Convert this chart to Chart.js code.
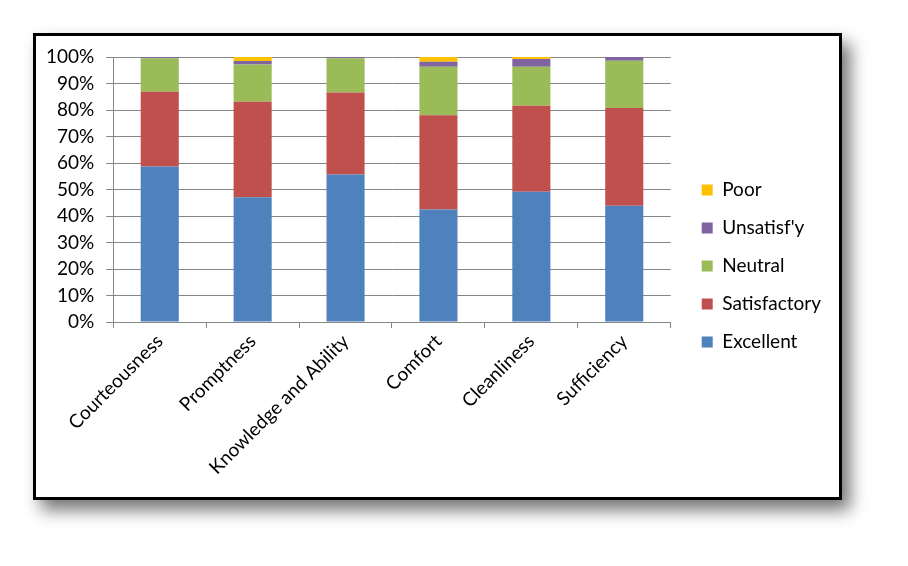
<!DOCTYPE html>
<html>
<head>
<meta charset="utf-8">
<script src="https://cdn.jsdelivr.net/npm/chart.js@4/dist/chart.umd.min.js"></script>
<style>
  html, body { margin: 0; padding: 0; background: #fff; }
  #frame {
    position: absolute; left: 33px; top: 33px;
    width: 803px; height: 461px;
    border: 3px solid #000; background: #fff;
    box-shadow: 8px 10px 16px rgba(0,0,0,0.55);
  }
  #chart { display: block; }
</style>
</head>
<body>
<div id="frame"><canvas id="chart" width="803" height="461"></canvas></div>
<script>
// categories and shares (%)
const categories = ['Courteousness', 'Promptness', 'Knowledge and Ability', 'Comfort', 'Cleanliness', 'Sufficiency'];
const excellent    = [58.7, 47.1, 55.7, 42.5, 49.2, 43.9];
const satisfactory = [28.2, 36.0, 30.9, 35.5, 32.4, 36.9];
const neutral      = [12.6, 14.1, 12.9, 18.3, 14.7, 17.8];
const unsatisfy    = [0.5, 1.3, 0.5, 1.9, 2.9, 1.4];
const poor         = [0.0, 1.5, 0.0, 1.8, 0.8, 0.0];

const COLORS = { blue: '#4F81BD', red: '#C0504D', green: '#9BBB59', purple: '#8064A2', yellow: '#FFC000' };
const FONT = 'Lato, "Open Sans", sans-serif';
const GRID = '#868686';

// extra room between plot and legend, and a small lift of the legend
const LEGEND_GAP = 12;
const LEGEND_LIFT = 3;

const legendGap = {
    id: 'legendGap',
    beforeInit(chart) {
        const lg = chart.legend;
        const fit = lg.fit;
        lg.fit = function () { fit.call(this); this.width += LEGEND_GAP; };
    },
    afterLayout(chart) {
        const lg = chart.legend;
        lg.left += LEGEND_GAP;
        lg.top -= LEGEND_LIFT;
        lg.bottom -= LEGEND_LIFT;
    }
};

const mkSet = (label, data, color) => ({
    label, data, backgroundColor: color, borderWidth: 0,
    categoryPercentage: 1, barPercentage: 0.41
});

new Chart(document.getElementById('chart').getContext('2d'), {
    type: 'bar',
    data: {
        labels: categories,
        datasets: [
            mkSet('Excellent', excellent, COLORS.blue),
            mkSet('Satisfactory', satisfactory, COLORS.red),
            mkSet('Neutral', neutral, COLORS.green),
            mkSet("Unsatisf'y", unsatisfy, COLORS.purple),
            mkSet('Poor', poor, COLORS.yellow)
        ]
    },
    plugins: [legendGap],
    options: {
        responsive: false, animation: false,
        layout: { padding: { left: 10, top: 21, right: 8, bottom: 16 } },
        plugins: {
            legend: {
                position: 'right', reverse: true,
                labels: { color: '#000', boxWidth: 11, boxHeight: 11, padding: 19, font: { family: FONT, size: 19 } }
            },
            tooltip: { enabled: false }
        },
        scales: {
            x: {
                stacked: true,
                // let the first rotated label hang under the y labels, as in the original
                afterFit: s => { s.paddingLeft = 0; },
                grid: { display: true, drawOnChartArea: false, color: GRID, tickLength: 6, offset: true },
                border: { color: GRID },
                ticks: { color: '#000', maxRotation: 45, minRotation: 45, padding: 2, font: { family: FONT, size: 19 } }
            },
            y: {
                stacked: true, min: 0, max: 100,
                afterFit: s => { s.width -= 12; s.paddingTop = 0; },
                grid: { color: GRID, tickLength: 7 },
                border: { color: GRID },
                ticks: { stepSize: 10, color: '#000', padding: 12, font: { family: FONT, size: 19 }, callback: v => v + '%' }
            }
        }
    }
});
</script>
</body>
</html>
